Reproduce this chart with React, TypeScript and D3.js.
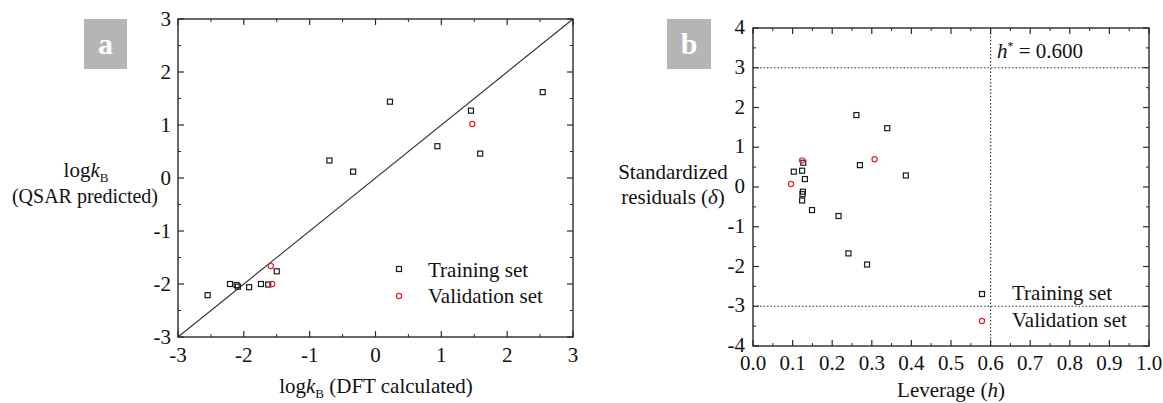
import React from "react";
import * as d3 from "d3";

const W = 1163, H = 403;
const FONT = "'Liberation Serif', 'Times New Roman', serif";
const FS = 21;

// Panel a data: [DFT calculated, QSAR predicted]
const aTrainX = [-2.55, -2.21, -2.11, -2.09, -1.92, -1.74, -1.63, -1.50, -0.70, -0.34, 0.22, 0.94, 1.45, 1.59, 2.54];
const aTrainY = [-2.21, -2.00, -2.02, -2.05, -2.06, -2.00, -2.01, -1.76, 0.33, 0.12, 1.44, 0.60, 1.27, 0.46, 1.62];
const aValX = [1.47, -1.59, -1.57];
const aValY = [1.02, -1.66, -2.00];

// Panel b data: [leverage, standardized residual]
const bTrainX = [0.127, 0.103, 0.124, 0.131, 0.126, 0.125, 0.124, 0.149, 0.216, 0.241, 0.288, 0.270, 0.386, 0.261, 0.339];
const bTrainY = [0.61, 0.385, 0.41, 0.20, -0.12, -0.18, -0.34, -0.58, -0.73, -1.67, -1.95, 0.55, 0.29, 1.81, 1.48];
const bValX = [0.124, 0.096, 0.307];
const bValY = [0.67, 0.075, 0.70];

const aTicks = [-3, -2, -1, 0, 1, 2, 3];
const bXTicks = [0, 0.1, 0.2, 0.3, 0.4, 0.5, 0.6, 0.7, 0.8, 0.9, 1.0];
const bYTicks = [-4, -3, -2, -1, 0, 1, 2, 3, 4];
const hStar = 0.6;
const warn = [3, -3];

const FRAME = "#2a2a2a";

function Frame({ x, y, majorX, minorX, majorY, minorY }: any) {
  const [x0, x1] = x.range();
  const [y0, y1] = y.range();
  const els: any[] = [];
  const maj = 6, min = 3;
  majorX.forEach((v: number, i: number) => {
    const px = x(v);
    els.push(<line key={"mxb" + i} x1={px} x2={px} y1={y0} y2={y0 - maj} stroke={FRAME} strokeWidth={1.2} />);
    els.push(<line key={"mxt" + i} x1={px} x2={px} y1={y1} y2={y1 + maj} stroke={FRAME} strokeWidth={1.2} />);
  });
  minorX.forEach((v: number, i: number) => {
    const px = x(v);
    els.push(<line key={"nxb" + i} x1={px} x2={px} y1={y0} y2={y0 - min} stroke={FRAME} strokeWidth={1} />);
    els.push(<line key={"nxt" + i} x1={px} x2={px} y1={y1} y2={y1 + min} stroke={FRAME} strokeWidth={1} />);
  });
  majorY.forEach((v: number, i: number) => {
    const py = y(v);
    els.push(<line key={"myl" + i} x1={x0} x2={x0 + maj} y1={py} y2={py} stroke={FRAME} strokeWidth={1.2} />);
    els.push(<line key={"myr" + i} x1={x1} x2={x1 - maj} y1={py} y2={py} stroke={FRAME} strokeWidth={1.2} />);
  });
  minorY.forEach((v: number, i: number) => {
    const py = y(v);
    els.push(<line key={"nyl" + i} x1={x0} x2={x0 + min} y1={py} y2={py} stroke={FRAME} strokeWidth={1} />);
    els.push(<line key={"nyr" + i} x1={x1} x2={x1 - min} y1={py} y2={py} stroke={FRAME} strokeWidth={1} />);
  });
  return (
    <g>
      <rect x={x0} y={y1} width={x1 - x0} height={y0 - y1} fill="none" stroke={FRAME} strokeWidth={1.4} />
      {els}
    </g>
  );
}

const Sq = ({ cx, cy }: any) => (
  <rect x={cx - 2.5} y={cy - 2.5} width={5} height={5} fill="none" stroke="#1a1a1a" strokeWidth={1.2} />
);
const Ci = ({ cx, cy }: any) => (
  <circle cx={cx} cy={cy} r={2.6} fill="none" stroke="#e8232a" strokeWidth={1.2} />
);

const LogK = ({ x, y, anchor, extra }: any) => (
  <text x={x} y={y} textAnchor={anchor} fontFamily={FONT} fontSize={FS} fill="#111">
    log<tspan fontStyle="italic">k</tspan>
    <tspan fontSize={13} dy={5}>B</tspan>
    {extra ? <tspan dy={-5}>{extra}</tspan> : null}
  </text>
);

export default function App() {
  const ax = d3.scaleLinear().domain([-3, 3]).range([178, 573]);
  const ay = d3.scaleLinear().domain([-3, 3]).range([337, 19]);
  const aMinor = d3.range(-2.5, 3, 1);

  const bx = d3.scaleLinear().domain([0, 1]).range([753, 1149]);
  const by = d3.scaleLinear().domain([-4, 4]).range([346, 28]);
  const bMinorX = d3.range(0.05, 1, 0.1);
  const bMinorY = d3.range(-3.5, 4, 1);

  const diag = d3.line<number>().x((v) => ax(v)).y((v) => ay(v))([-3, 3]) || "";

  return (
    <svg width={W} height={H} style={{ position: "absolute", left: 0, top: 0, background: "#fff" }}>
      {/* Panel a */}
      <rect x={84} y={19} width={43} height={50} fill="#b3b5b6" />
      <text x={105.5} y={54} textAnchor="middle" fontFamily={FONT} fontWeight="bold" fontSize={30} fill="#fff">a</text>

      <path d={diag} stroke="#333" strokeWidth={1.1} fill="none" />
      <Frame x={ax} y={ay} majorX={aTicks} minorX={aMinor} majorY={aTicks} minorY={aMinor} />
      {aTicks.map((t) => (
        <text key={"axl" + t} x={ax(t)} y={362} textAnchor="middle" fontFamily={FONT} fontSize={FS} fill="#111">{t}</text>
      ))}
      {aTicks.map((t) => (
        <text key={"ayl" + t} x={171} y={ay(t) + 6.5} textAnchor="end" fontFamily={FONT} fontSize={FS} fill="#111">{t}</text>
      ))}
      {aTrainX.map((v, i) => <Sq key={"at" + i} cx={ax(v)} cy={ay(aTrainY[i])} />)}
      {aValX.map((v, i) => <Ci key={"av" + i} cx={ax(v)} cy={ay(aValY[i])} />)}

      <Sq cx={399} cy={269} />
      <text x={428} y={277} fontFamily={FONT} fontSize={FS} fill="#111">Training set</text>
      <Ci cx={399} cy={296} />
      <text x={428} y={303} fontFamily={FONT} fontSize={FS} fill="#111">Validation set</text>

      <LogK x={376} y={393} anchor="middle" extra=" (DFT calculated)" />
      <LogK x={86} y={177} anchor="middle" />
      <text x={85} y={203} textAnchor="middle" fontFamily={FONT} fontSize={20} fill="#111">(QSAR predicted)</text>

      {/* Panel b */}
      <rect x={667} y={19} width={44} height={50} fill="#b3b5b6" />
      <text x={689} y={54} textAnchor="middle" fontFamily={FONT} fontWeight="bold" fontSize={30} fill="#fff">b</text>

      {warn.map((w) => (
        <line key={"w" + w} x1={bx(0)} x2={bx(1)} y1={by(w)} y2={by(w)} stroke="#333" strokeWidth={1.1} strokeDasharray="1.5,2" />
      ))}
      <line x1={bx(hStar)} x2={bx(hStar)} y1={by(-4)} y2={by(4)} stroke="#333" strokeWidth={1.1} strokeDasharray="1.5,2" />

      <Frame x={bx} y={by} majorX={bXTicks} minorX={bMinorX} majorY={bYTicks} minorY={bMinorY} />
      {bXTicks.map((t) => (
        <text key={"bxl" + t} x={bx(t)} y={369.5} textAnchor="middle" fontFamily={FONT} fontSize={FS} fill="#111">{d3.format(".1f")(t)}</text>
      ))}
      {bYTicks.map((t) => (
        <text key={"byl" + t} x={745} y={by(t) + 6} textAnchor="end" fontFamily={FONT} fontSize={FS} fill="#111">{t}</text>
      ))}
      {bTrainX.map((v, i) => <Sq key={"bt" + i} cx={bx(v)} cy={by(bTrainY[i])} />)}
      {bValX.map((v, i) => <Ci key={"bv" + i} cx={bx(v)} cy={by(bValY[i])} />)}

      <text x={997} y={58} fontFamily={FONT} fontSize={FS} fill="#111">
        <tspan fontStyle="italic">h</tspan>
        <tspan fontSize={12} dy={-8}>*</tspan>
        <tspan dy={8}> = 0.600</tspan>
      </text>

      <Sq cx={982} cy={294} />
      <text x={1012} y={300} fontFamily={FONT} fontSize={FS} fill="#111">Training set</text>
      <Ci cx={982} cy={321} />
      <text x={1012} y={327} fontFamily={FONT} fontSize={FS} fill="#111">Validation set</text>

      <text x={951} y={397} textAnchor="middle" fontFamily={FONT} fontSize={FS} fill="#111">
        Leverage (<tspan fontStyle="italic">h</tspan>)
      </text>
      <text x={673} y={179} textAnchor="middle" fontFamily={FONT} fontSize={FS} fill="#111">Standardized</text>
      <text x={673} y={204} textAnchor="middle" fontFamily={FONT} fontSize={FS} fill="#111">
        residuals (<tspan fontStyle="italic">δ</tspan>)
      </text>
    </svg>
  );
}
